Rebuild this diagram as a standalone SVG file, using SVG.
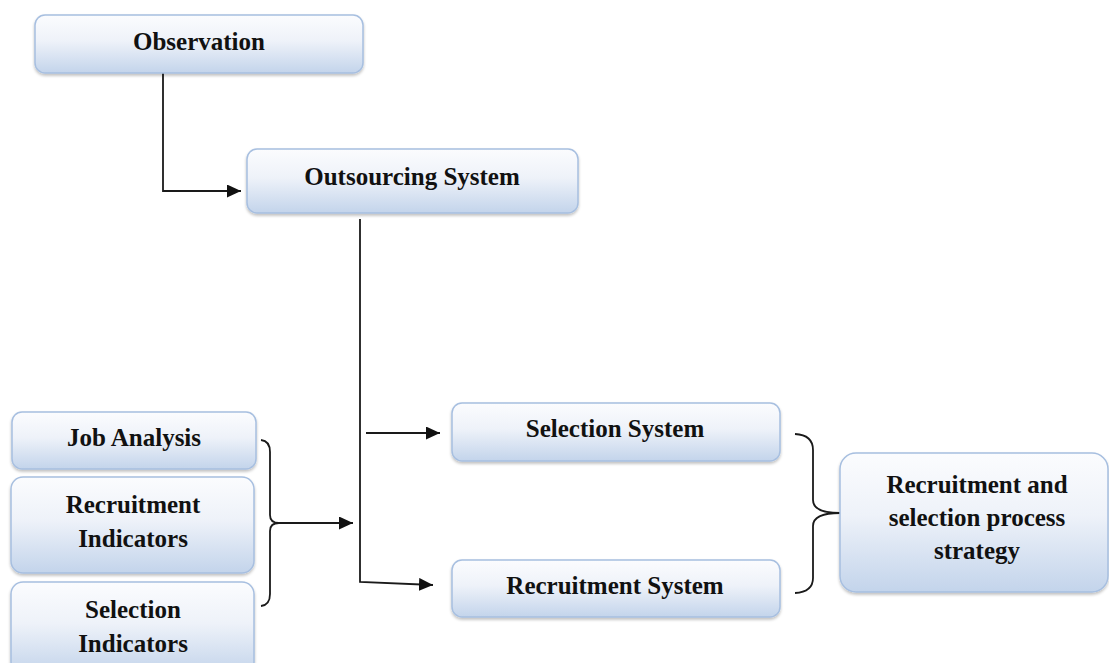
<svg xmlns="http://www.w3.org/2000/svg" width="1109" height="663" viewBox="0 0 1109 663">
<defs>
<linearGradient id="g" x1="0" y1="0" x2="0" y2="1">
<stop offset="0" stop-color="#fbfcfe"/>
<stop offset="0.45" stop-color="#eef2f9"/>
<stop offset="1" stop-color="#c3d4eb"/>
</linearGradient>
<filter id="sh" x="-5%" y="-10%" width="110%" height="130%">
<feGaussianBlur in="SourceAlpha" stdDeviation="1.5"/>
<feOffset dx="0" dy="2" result="b"/>
<feComponentTransfer><feFuncA type="linear" slope="0.25"/></feComponentTransfer>
<feMerge><feMergeNode/><feMergeNode in="SourceGraphic"/></feMerge>
</filter>
<marker id="arr" markerUnits="userSpaceOnUse" markerWidth="15" markerHeight="13" refX="14" refY="6.5" orient="auto">
<path d="M0,0 L14,6.5 L0,13 Z" fill="#111"/>
</marker>
</defs>
<style>
.box{fill:url(#g);stroke:#a7bfe0;stroke-width:1.5;filter:url(#sh)}
.t{font-family:"Liberation Serif","Times New Roman",serif;font-weight:bold;font-size:25px;fill:#111;text-anchor:middle}
.ln{fill:none;stroke:#1a1a1a;stroke-width:1.8}
</style>
<rect width="1109" height="663" fill="#fff"/>
<g id="connectors">
<path class="ln" d="M163,73 V191 H241" marker-end="url(#arr)"/>
<path class="ln" d="M360,219 V582 L433,585" marker-end="url(#arr)"/>
<path class="ln" d="M366,433 H440" marker-end="url(#arr)"/>
<path class="ln" d="M261,440 Q270,441 270,452 V515 Q270,523 279,523 Q270,523 270,531 V594 Q270,605 261,606"/>
<path class="ln" d="M279,523 H353" marker-end="url(#arr)"/>
<path class="ln" d="M795,434 Q813,435 813,450 V500 Q813,513 840,513 Q813,513 813,526 V578 Q813,592 795,593"/>
</g>
<g id="observation">
<rect class="box" x="35" y="15" width="328" height="58" rx="10"/>
<text class="t" x="199" y="50">Observation</text>
</g>
<g id="outsourcing">
<rect class="box" x="247" y="149" width="331" height="64" rx="10"/>
<text class="t" x="412" y="185">Outsourcing System</text>
</g>
<g id="job-analysis">
<rect class="box" x="12" y="412" width="244" height="57" rx="10"/>
<text class="t" x="134" y="446">Job Analysis</text>
</g>
<g id="recruitment-indicators">
<rect class="box" x="11" y="477" width="243" height="96" rx="12"/>
<text class="t" x="133" y="513">Recruitment</text>
<text class="t" x="133" y="547">Indicators</text>
</g>
<g id="selection-indicators">
<rect class="box" x="11" y="582" width="243" height="92" rx="12"/>
<text class="t" x="133" y="618">Selection</text>
<text class="t" x="133" y="652">Indicators</text>
</g>
<g id="selection-system">
<rect class="box" x="452" y="403" width="328" height="58" rx="10"/>
<text class="t" x="615" y="437">Selection System</text>
</g>
<g id="recruitment-system">
<rect class="box" x="452" y="560" width="328" height="57" rx="10"/>
<text class="t" x="615" y="594">Recruitment System</text>
</g>
<g id="strategy">
<rect class="box" x="840" y="453" width="268" height="139" rx="16"/>
<text class="t" x="977" y="493">Recruitment and</text>
<text class="t" x="977" y="526">selection process</text>
<text class="t" x="977" y="559">strategy</text>
</g>
</svg>
